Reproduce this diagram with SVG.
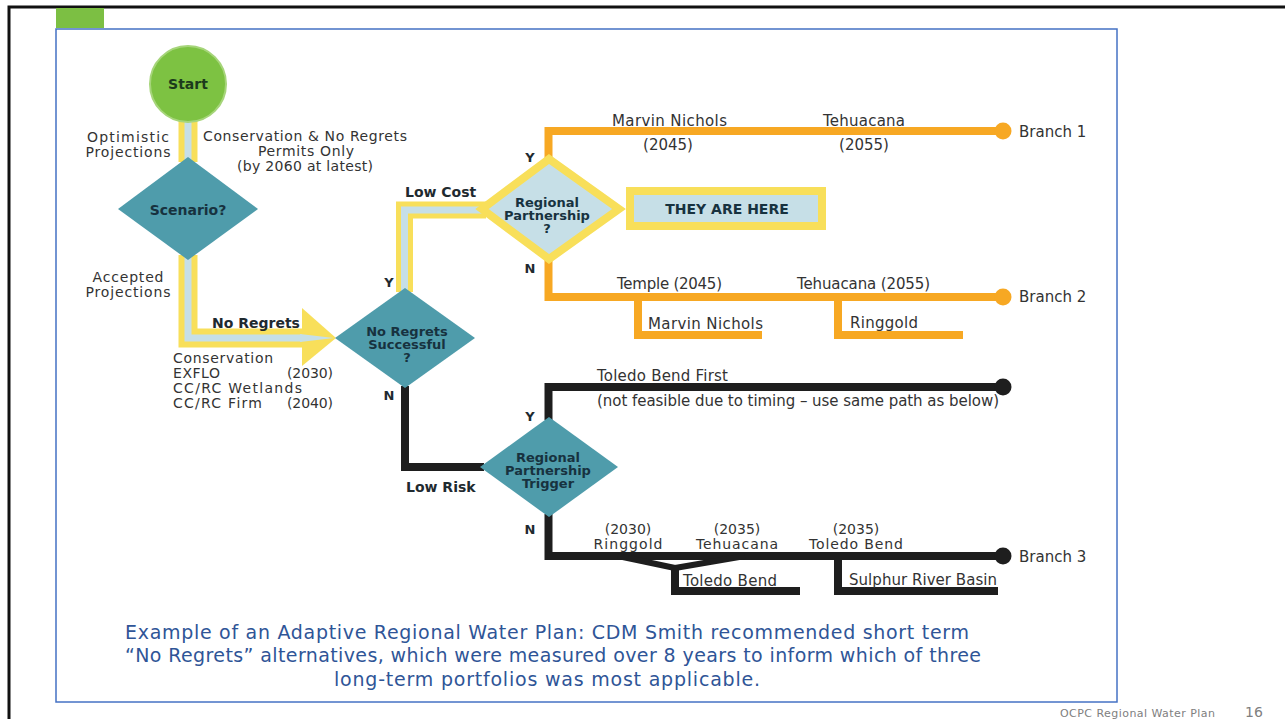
<svg xmlns="http://www.w3.org/2000/svg" width="1285" height="719" viewBox="0 0 1285 719">
<style>
text{font-family:"DejaVu Sans","Liberation Sans",sans-serif;fill:#333;font-size:15px}
.s{font-size:14px}
.b{font-weight:bold;fill:#1f2a30}
.m{text-anchor:middle}
.dt{font-weight:bold;fill:#17323f;font-size:13px;text-anchor:middle}
.yel{fill:none;stroke:#f8df5a;stroke-width:19}
.lb{fill:none;stroke:#c6dfe7;stroke-width:7}
.or{fill:none;stroke:#f7a823;stroke-width:8}
.bk{fill:none;stroke:#1e1e1e;stroke-width:8}
.teal{fill:#4f9cab}
.cap{fill:#2f5597;font-size:19px;text-anchor:middle}
</style>
<rect width="1285" height="719" fill="#fff"/>
<g id="frame">
<path d="M9,719 V7 H1285" fill="none" stroke="#111" stroke-width="3"/>
<rect x="56" y="8" width="48" height="20" fill="#7cbf43"/>
<rect x="56" y="29" width="1061" height="673" fill="none" stroke="#4472c4" stroke-width="1.5"/>
</g>
<g id="connectors">
<path class="yel" d="M188,120 V162"/>
<path class="lb" d="M188,120 V162"/>
<path class="yel" d="M188,255 V338 H304"/>
<path class="lb" d="M188,255 V338 H320"/>
<polygon points="302,308 336,338 302,366" fill="#f8df5a"/>
<polygon points="300,334 334,338 300,342" fill="#c6dfe7"/>
<path class="yel" d="M404.5,292 V210 H486" style="stroke-width:17"/>
<path class="lb" d="M404.5,292 V210 H486"/>
<path class="or" d="M548.5,158 V131 H1003"/>
<circle cx="1003" cy="131" r="8.5" fill="#f7a823"/>
<path class="or" d="M548.5,260 V297 H1003"/>
<circle cx="1003" cy="297" r="8.5" fill="#f7a823"/>
<path class="or" d="M638,297 V335 H762"/>
<path class="or" d="M838,297 V335 H963"/>
<path class="bk" d="M405,386 V467 H484"/>
<path class="bk" d="M548.5,420 V387 H1003"/>
<circle cx="1003" cy="387" r="8.5" fill="#1e1e1e"/>
<path class="bk" d="M548.5,514 V556 H1003"/>
<circle cx="1003" cy="556" r="8.5" fill="#1e1e1e"/>
<path d="M618,556 L675,568 M745,556 L675,568" stroke="#1e1e1e" stroke-width="6" fill="none"/>
<path class="bk" d="M675,566 V591 H800"/>
<path class="bk" d="M838,556 V591 H998"/>
</g>
<g id="start">
<circle cx="188" cy="84" r="38" fill="#7dc242" stroke="#a6d57a" stroke-width="2"/>
<text x="188" y="89" class="dt" style="fill:#1c3a1c;font-size:14px">Start</text>
</g>
<g id="scenario">
<polygon class="teal" points="188,157 258,209 188,260 118,209"/>
<text x="188" y="215" class="dt" style="font-size:14px">Scenario?</text>
</g>
<g id="no-regrets-successful">
<polygon class="teal" points="405,288 475,338 405,388 335,338"/>
<text x="407" y="336" class="dt">No Regrets</text>
<text x="407" y="349" class="dt">Successful</text>
<text x="407" y="362" class="dt">?</text>
</g>
<g id="regional-partnership">
<polygon points="549,159 619,209 549,259 482,209" fill="#c6dfe7" stroke="#f8df5a" stroke-width="8" stroke-linejoin="miter"/>
<text x="547" y="207" class="dt">Regional</text>
<text x="547" y="220" class="dt">Partnership</text>
<text x="547" y="233" class="dt">?</text>
</g>
<g id="they-are-here">
<rect x="630" y="191" width="192" height="35" fill="#c6dfe7" stroke="#f8df5a" stroke-width="8"/>
<text x="727" y="214" class="dt" style="font-size:14px">THEY ARE HERE</text>
</g>
<g id="regional-partnership-trigger">
<polygon class="teal" points="549,417 618,467 549,517 480,467"/>
<text x="548" y="462" class="dt">Regional</text>
<text x="548" y="475" class="dt">Partnership</text>
<text x="548" y="488" class="dt">Trigger</text>
</g>
<g id="labels">
<text x="128" y="142" class="m s" textLength="82">Optimistic</text>
<text x="128" y="157" class="m s" textLength="85">Projections</text>
<text x="305" y="141" class="m s" textLength="204">Conservation &amp; No Regrets</text>
<text x="306" y="156" class="m s" textLength="96">Permits Only</text>
<text x="305" y="171" class="m s" textLength="136">(by 2060 at latest)</text>
<text x="128" y="282" class="m s" textLength="71">Accepted</text>
<text x="128" y="297" class="m s" textLength="85">Projections</text>
<text x="212" y="328" class="b" style="font-size:14px">No Regrets</text>
<text x="173" y="363" class="s" textLength="100">Conservation</text>
<text x="173" y="378" class="s" textLength="47">EXFLO</text>
<text x="287" y="378" class="s" textLength="46">(2030)</text>
<text x="173" y="393" class="s" textLength="129">CC/RC Wetlands</text>
<text x="173" y="408" class="s" textLength="89">CC/RC Firm</text>
<text x="287" y="408" class="s" textLength="46">(2040)</text>
<text x="389" y="287" class="b m" style="font-size:13px">Y</text>
<text x="389" y="400" class="b m" style="font-size:13px">N</text>
<text x="405" y="197" class="b" style="font-size:14px">Low Cost</text>
<text x="530" y="162" class="b m" style="font-size:13px">Y</text>
<text x="530" y="273" class="b m" style="font-size:13px">N</text>
<text x="530" y="421" class="b m" style="font-size:13px">Y</text>
<text x="530" y="534" class="b m" style="font-size:13px">N</text>
<text x="406" y="492" class="b" style="font-size:14px">Low Risk</text>
<text x="612" y="126" textLength="115">Marvin Nichols</text>
<text x="668" y="150" class="m">(2045)</text>
<text x="823" y="126" textLength="82">Tehuacana</text>
<text x="864" y="150" class="m">(2055)</text>
<text x="1019" y="137">Branch 1</text>
<text x="617" y="289" textLength="105">Temple (2045)</text>
<text x="797" y="289" textLength="133">Tehuacana (2055)</text>
<text x="1019" y="302">Branch 2</text>
<text x="648" y="329" textLength="115">Marvin Nichols</text>
<text x="850" y="328" textLength="68">Ringgold</text>
<text x="597" y="381" textLength="131">Toledo Bend First</text>
<text x="597" y="406" textLength="402">(not feasible due to timing – use same path as below)</text>
<text x="628" y="534" class="m s">(2030)</text>
<text x="628" y="549" class="m s" textLength="69">Ringgold</text>
<text x="737" y="534" class="m s">(2035)</text>
<text x="737" y="549" class="m s" textLength="82">Tehuacana</text>
<text x="856" y="534" class="m s">(2035)</text>
<text x="856" y="549" class="m s" textLength="94">Toledo Bend</text>
<text x="683" y="586" textLength="94">Toledo Bend</text>
<text x="849" y="585" textLength="148">Sulphur River Basin</text>
<text x="1019" y="562">Branch 3</text>
</g>
<g id="caption">
<text x="547" y="639" class="cap" textLength="844">Example of an Adaptive Regional Water Plan: CDM Smith recommended short term</text>
<text x="553" y="662" class="cap" textLength="856">“No Regrets” alternatives, which were measured over 8 years to inform which of three</text>
<text x="547" y="686" class="cap" textLength="426">long-term portfolios was most applicable.</text>
</g>
<g id="footer">
<text x="1060" y="717" style="font-size:11px;fill:#808080" textLength="155">OCPC Regional Water Plan</text>
<text x="1245" y="717" style="font-size:14px;fill:#808080">16</text>
</g>
</svg>
